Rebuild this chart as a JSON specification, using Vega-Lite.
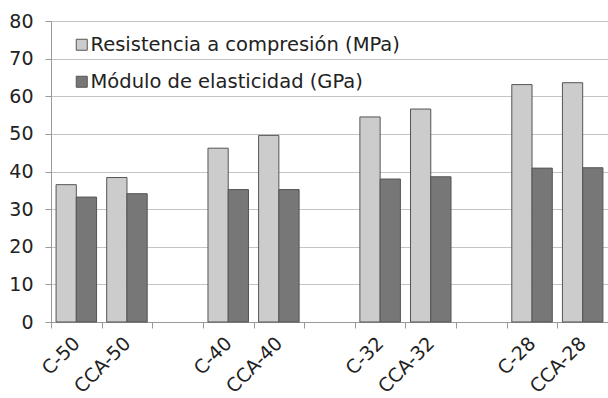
{
  "$schema": "https://vega.github.io/schema/vega-lite/v6.json",
  "width": 557,
  "height": 301,
  "autosize": {"type": "none"},
  "padding": {"left": 51, "top": 21, "right": 0, "bottom": 76},
  "background": "white",
  "config": {
    "view": {"stroke": null},
    "font": "DejaVu Sans",
    "axis": {"labelColor": "#222222", "labelFont": "DejaVu Sans"},
    "legend": {"labelFont": "DejaVu Sans"}
  },
  "data": {
    "values": [
      {"mezcla": "C-50", "serie": "Resistencia a compresión (MPa)", "valor": 36.5},
      {"mezcla": "C-50", "serie": "Módulo de elasticidad (GPa)", "valor": 33.2},
      {"mezcla": "CCA-50", "serie": "Resistencia a compresión (MPa)", "valor": 38.4},
      {"mezcla": "CCA-50", "serie": "Módulo de elasticidad (GPa)", "valor": 34.1},
      {"mezcla": "C-40", "serie": "Resistencia a compresión (MPa)", "valor": 46.2},
      {"mezcla": "C-40", "serie": "Módulo de elasticidad (GPa)", "valor": 35.2},
      {"mezcla": "CCA-40", "serie": "Resistencia a compresión (MPa)", "valor": 49.6},
      {"mezcla": "CCA-40", "serie": "Módulo de elasticidad (GPa)", "valor": 35.2},
      {"mezcla": "C-32", "serie": "Resistencia a compresión (MPa)", "valor": 54.5},
      {"mezcla": "C-32", "serie": "Módulo de elasticidad (GPa)", "valor": 38.0},
      {"mezcla": "CCA-32", "serie": "Resistencia a compresión (MPa)", "valor": 56.6},
      {"mezcla": "CCA-32", "serie": "Módulo de elasticidad (GPa)", "valor": 38.6},
      {"mezcla": "C-28", "serie": "Resistencia a compresión (MPa)", "valor": 63.1},
      {"mezcla": "C-28", "serie": "Módulo de elasticidad (GPa)", "valor": 40.9},
      {"mezcla": "CCA-28", "serie": "Resistencia a compresión (MPa)", "valor": 63.6},
      {"mezcla": "CCA-28", "serie": "Módulo de elasticidad (GPa)", "valor": 41.0}
    ]
  },
  "mark": {"type": "bar", "stroke": "#555555", "strokeWidth": 1},
  "encoding": {
    "x": {
      "field": "mezcla",
      "type": "nominal",
      "scale": {
        "domain": ["C-50", "CCA-50", " ", "C-40", "CCA-40", "  ", "C-32", "CCA-32", "   ", "C-28", "CCA-28"],
        "paddingInner": 0,
        "paddingOuter": 0
      },
      "axis": {
        "title": null,
        "labelAngle": -45,
        "labelAlign": "right",
        "labelBaseline": "middle",
        "labelFontSize": 19,
        "labelPadding": 12,
        "tickBand": "extent",
        "tickSize": 6,
        "tickColor": "#999999",
        "domainColor": "#999999",
        "grid": false
      }
    },
    "xOffset": {
      "field": "serie",
      "type": "nominal",
      "sort": ["Resistencia a compresión (MPa)", "Módulo de elasticidad (GPa)"],
      "scale": {"paddingInner": 0, "paddingOuter": 0.25}
    },
    "y": {
      "field": "valor",
      "type": "quantitative",
      "scale": {"domain": [0, 80], "nice": false},
      "axis": {
        "title": null,
        "values": [0, 10, 20, 30, 40, 50, 60, 70, 80],
        "labelFontSize": 19,
        "labelPadding": 12,
        "tickSize": 6,
        "tickColor": "#999999",
        "domainColor": "#999999",
        "gridColor": "#c4c4c4",
        "gridWidth": 1
      }
    },
    "color": {
      "field": "serie",
      "type": "nominal",
      "sort": ["Resistencia a compresión (MPa)", "Módulo de elasticidad (GPa)"],
      "scale": {"range": ["#cccccc", "#777777"]},
      "legend": {
        "title": null,
        "orient": "none",
        "legendX": 21,
        "legendY": 14,
        "padding": 0,
        "symbolType": "square",
        "symbolSize": 121,
        "symbolStrokeColor": "#555555",
        "symbolStrokeWidth": 1,
        "labelFontSize": 19.5,
        "labelColor": "#222222",
        "labelOffset": -1,
        "labelLimit": 400,
        "rowPadding": 16
      }
    }
  }
}
